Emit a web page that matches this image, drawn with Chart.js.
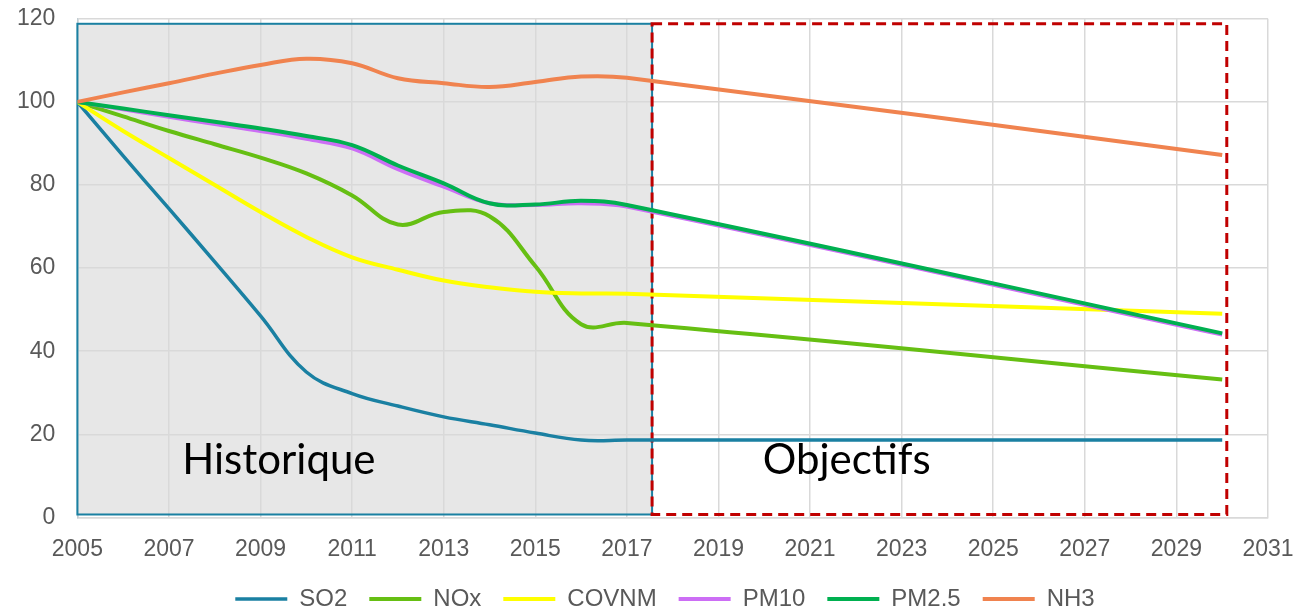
<!DOCTYPE html>
<html>
<head>
  <title>Emissions - Historique et Objectifs</title>
  <script src="https://cdn.jsdelivr.net/npm/chart.js"></script>
  <style>
    body {
      margin: 0;
      background: #fff;
    }
    #wrap {
      width: 1308px;
      height: 606px;
    }
  </style>
</head>
<body>
  <div id="wrap"><canvas id="emissionChart"></canvas></div>

  <script>
    // Years with data (history up to 2017, target in 2030)
    const years = [2005, 2006, 2007, 2008, 2009, 2010, 2011, 2012, 2013, 2014, 2015, 2016, 2017, 2030];

    // Index values, base 100 in 2005
    const so2    = [100, 87, 74.3, 61.5, 48.5, 35, 29.8, 26.8, 24.2, 22.3, 20.3, 18.6, 18.6, 18.6];
    const nox    = [100, 96.5, 93, 89.8, 86.6, 82.8, 77.5, 70.5, 73.5, 72.5, 60.5, 46.5, 46.8, 33.2];
    const covnm  = [100, 93, 86.5, 80, 73.5, 67.5, 62.6, 59.6, 57, 55.4, 54.3, 53.9, 53.8, 49];
    const pm10   = [100, 98.2, 96.4, 94.7, 93, 91.1, 88.8, 83.8, 79.6, 75.6, 75.2, 75.6, 74.8, 44];
    const pm25   = [100, 98.4, 96.8, 95.2, 93.6, 91.8, 89.6, 84.7, 80.4, 75.6, 75.3, 76.2, 75.2, 44.3];
    const nh3    = [100, 102.3, 104.5, 106.8, 108.9, 110.4, 109.3, 105.7, 104.5, 103.6, 104.8, 106.1, 105.8, 87.2];

    const seriesNames  = ['SO2', 'NOx', 'COVNM', 'PM10', 'PM2.5', 'NH3'];
    const seriesValues = [so2, nox, covnm, pm10, pm25, nh3];
    const seriesColors = ['#1a80a2', '#66bf13', '#ffff00', '#cc6ef5', '#00b050', '#f0834f'];

    const xTicks = [2005, 2031, 2];  // min, max, step
    const yTicks = [0, 120, 20];

    // Shaded zones, in axis units
    const histZone = { x0: 2005, x1: 2017.55, y0: 0.7, y1: 118.8, label: 'Historique', lx: 2009.4, ly: 10.5 };
    const objZone  = { x0: 2017.55, x1: 2030.1, y0: 0.7, y1: 118.8, label: 'Objectifs', lx: 2021.8, ly: 10.5 };

    const zonesPlugin = {
      id: 'zones',
      afterLayout(chart) {
        // legend is a bit right of centre in the original
        chart.legend.left += 25;
        chart.legend.right += 25;
      },
      beforeDraw(chart) {
        const { ctx, scales: { x, y } } = chart;
        ctx.save();
        ctx.fillStyle = '#e7e7e7';
        ctx.fillRect(x.getPixelForValue(histZone.x0), y.getPixelForValue(histZone.y1),
          x.getPixelForValue(histZone.x1) - x.getPixelForValue(histZone.x0),
          y.getPixelForValue(histZone.y0) - y.getPixelForValue(histZone.y1));
        ctx.restore();
      },
      beforeDatasetsDraw(chart) {
        const { ctx, scales: { x, y } } = chart;
        ctx.save();
        // blue frame of the history zone
        ctx.strokeStyle = '#1a80a2';
        ctx.lineWidth = 2;
        ctx.strokeRect(x.getPixelForValue(histZone.x0), y.getPixelForValue(histZone.y1),
          x.getPixelForValue(histZone.x1) - x.getPixelForValue(histZone.x0),
          y.getPixelForValue(histZone.y0) - y.getPixelForValue(histZone.y1));
        // red dashed frame of the targets zone
        ctx.strokeStyle = '#c00000';
        ctx.lineWidth = 3;
        ctx.setLineDash([10, 6]);
        ctx.strokeRect(x.getPixelForValue(objZone.x0), y.getPixelForValue(objZone.y1),
          x.getPixelForValue(objZone.x1) - x.getPixelForValue(objZone.x0),
          y.getPixelForValue(objZone.y0) - y.getPixelForValue(objZone.y1));
        ctx.setLineDash([]);
        // zone labels
        ctx.fillStyle = '#000';
        ctx.font = '42px Lato, "Open Sans", sans-serif';
        ctx.textAlign = 'center';
        ctx.textBaseline = 'alphabetic';
        ctx.fillText(histZone.label, x.getPixelForValue(histZone.lx), y.getPixelForValue(histZone.ly));
        ctx.fillText(objZone.label, x.getPixelForValue(objZone.lx), y.getPixelForValue(objZone.ly));
        ctx.restore();
      }
    };

    const datasets = seriesNames.map((name, i) => ({
      label: name,
      data: years.map((yr, j) => ({ x: yr, y: seriesValues[i][j] })),
      borderColor: seriesColors[i],
      backgroundColor: seriesColors[i],
      borderWidth: i === 0 ? 3.5 : 4,
      pointRadius: 0,
      tension: 0.4,
      fill: false,
      order: seriesNames.length - i
    }));

    const tickFont = { family: '"Liberation Sans", Arial, sans-serif', size: 23 };

    const ctx = document.getElementById('emissionChart').getContext('2d');
    new Chart(ctx, {
      type: 'line',
      data: { datasets: datasets },
      plugins: [zonesPlugin],
      options: {
        responsive: true,
        maintainAspectRatio: false,
        animation: false,
        layout: {
          padding: { left: 12, right: 40, top: 0, bottom: -15 }
        },
        scales: {
          x: {
            type: 'linear',
            min: xTicks[0],
            max: xTicks[1],
            ticks: {
              stepSize: xTicks[2],
              color: '#595959',
              font: tickFont,
              padding: 2,
              callback: v => String(v)
            },
            grid: { color: '#d9d9d9', lineWidth: 1.5, tickLength: 16, tickColor: 'rgba(0,0,0,0)' },
            border: { color: '#d9d9d9', width: 1.5 }
          },
          y: {
            min: yTicks[0],
            max: yTicks[1],
            ticks: {
              stepSize: yTicks[2],
              color: '#595959',
              font: tickFont,
              padding: 5
            },
            grid: { color: '#d9d9d9', lineWidth: 1.5, tickLength: 17, tickColor: 'rgba(0,0,0,0)' },
            border: { color: '#c3cdd2', width: 1.5 }
          }
        },
        plugins: {
          tooltip: { enabled: false },
          legend: {
            position: 'bottom',
            labels: {
              boxWidth: 52,
              boxHeight: 0,
              padding: 22,
              color: '#595959',
              font: { family: '"Liberation Sans", Arial, sans-serif', size: 24 },
              sort: (a, b) => a.datasetIndex - b.datasetIndex
            }
          }
        }
      }
    });
  </script>
</body>
</html>
